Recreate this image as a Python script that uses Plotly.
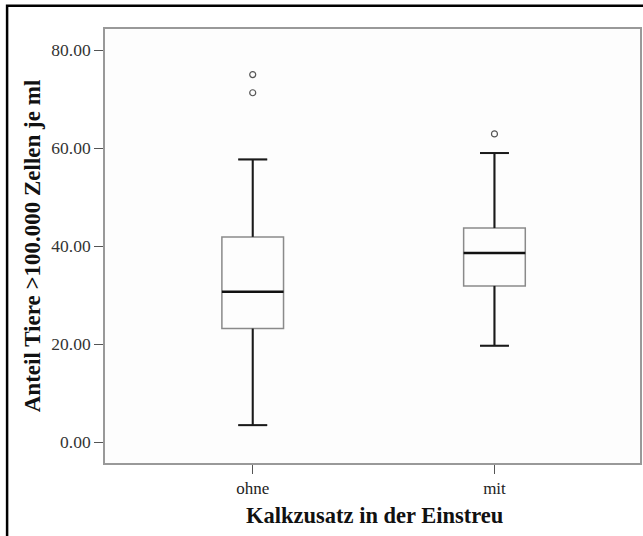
import plotly.graph_objects as go

categories = ["ohne", "mit"]
x_pos = [0, 1]
lower_fence = [3.5, 19.7]
q1 = [23.2, 31.9]
median = [30.7, 38.6]
q3 = [41.9, 43.7]
upper_fence = [57.7, 59.0]
outliers = [[71.3, 75.0], [62.9]]
y_ticks = [0, 20, 40, 60, 80]
y_tick_labels = ["0.00", "20.00", "40.00", "60.00", "80.00"]

box_w = 0.255
cap_w = box_w * 0.47
fig = go.Figure()
for i, cat in enumerate(categories):
    x = x_pos[i]
    fig.add_trace(go.Box(
        x=[x], q1=[q1[i]], median=[median[i]], q3=[q3[i]],
        lowerfence=[lower_fence[i]], upperfence=[upper_fence[i]],
        width=box_w, whiskerwidth=0.47, fillcolor="rgba(0,0,0,0)",
        line=dict(color="#8a8a8a", width=1.5), boxpoints=False,
        showlegend=False, name=cat))
    # black whiskers and caps over the box's own
    wx = [x, x, None, x - cap_w / 2, x + cap_w / 2, None,
          x, x, None, x - cap_w / 2, x + cap_w / 2]
    wy = [q3[i], upper_fence[i], None, upper_fence[i], upper_fence[i], None,
          q1[i], lower_fence[i], None, lower_fence[i], lower_fence[i]]
    fig.add_trace(go.Scatter(x=wx, y=wy, mode="lines",
                             line=dict(color="#1a1a1a", width=2), showlegend=False))
    fig.add_trace(go.Scatter(
        x=[x - box_w / 2, x + box_w / 2], y=[median[i], median[i]],
        mode="lines", line=dict(color="#111111", width=2.4), showlegend=False))
    fig.add_trace(go.Scatter(
        x=[x] * len(outliers[i]), y=outliers[i], mode="markers",
        marker=dict(symbol="circle-open", size=6, color="#555555", line=dict(width=1.2)),
        showlegend=False))

font_fam = "Liberation Serif, Times New Roman, serif"
fig.update_layout(
    width=643, height=536,
    margin=dict(l=105, r=1, t=29, b=73),
    paper_bgcolor="white", plot_bgcolor="#fdfdfd",
    font=dict(family=font_fam, color="#333333", size=17),
    xaxis=dict(range=[-0.611, 1.602], tickvals=x_pos, ticktext=categories,
               showgrid=False, zeroline=False, showline=True, mirror=True,
               linecolor="#999999", linewidth=1.6, ticks="outside", ticklen=9,
               tickcolor="#555555", tickfont=dict(size=17, color="#222222")),
    yaxis=dict(range=[-4.22, 84.3], tickvals=y_ticks, ticktext=y_tick_labels,
               showgrid=False, zeroline=False, showline=True, mirror=True,
               linecolor="#999999", linewidth=1.6, ticks="outside", ticklen=9,
               tickcolor="#555555", tickfont=dict(size=17.5, color="#333333")),
    annotations=[
        dict(text="<b>Anteil Tiere >100.000 Zellen je ml</b>", xref="paper", yref="paper",
             x=-0.136, y=0.5, xanchor="center", yanchor="middle", textangle=-90,
             showarrow=False, font=dict(size=23, color="#111111", family=font_fam)),
        dict(text="<b>Kalkzusatz in der Einstreu</b>", xref="paper", yref="paper",
             x=0.503, y=-0.12, xanchor="center", yanchor="middle",
             showarrow=False, font=dict(size=22.5, color="#111111", family=font_fam)),
    ],
    shapes=[dict(type="rect", xref="paper", yref="paper", x0=-0.183, x1=1.03,
                 y0=-0.2, y1=1.0537, line=dict(color="black", width=2.5),
                 fillcolor="rgba(0,0,0,0)", layer="above")],
)
fig.write_html("out.html")
